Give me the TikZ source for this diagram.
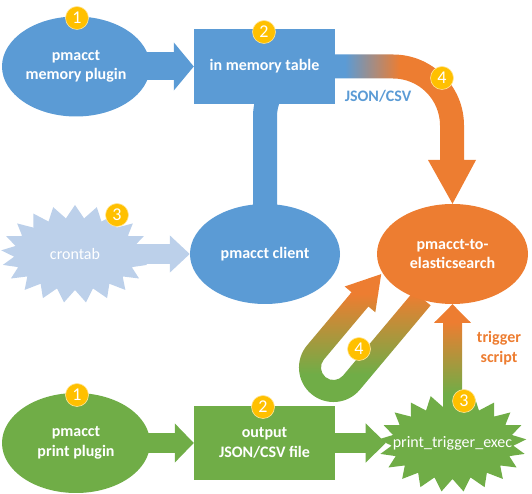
\documentclass[tikz,border=0pt]{standalone}
\usepackage{fontspec}
\setmainfont{Carlito}
\usetikzlibrary{shapes.geometric,shapes.symbols,arrows.meta,backgrounds}
\definecolor{pblue}{HTML}{5B9BD5}
\definecolor{porange}{HTML}{ED7D31}
\definecolor{pgreen}{HTML}{70AD47}
\definecolor{plight}{HTML}{BCD0EA}
\definecolor{pyellow}{HTML}{FFC000}

\begin{document}
\begin{tikzpicture}[x=1pt,y=1pt,
    lbl/.style={font=\fontsize{16}{19.5}\selectfont\bfseries,align=center,inner sep=0pt},
    plain/.style={font=\fontsize{16}{19.5}\selectfont,text=white,inner sep=0pt},
    block/.style={lbl,fill=#1,text=white,minimum width=141pt,minimum height=75pt},
    oval/.style={lbl,fill=#1,text=white,ellipse,minimum width=148pt,minimum height=100pt},
    burst/.style={fill=#1,starburst,starburst points=21,inner sep=0pt,
        starburst point height=13pt,random starburst=0,minimum width=148pt,minimum height=98pt},
    badge/.style={circle,fill=pyellow,draw=pyellow!40!white,line width=0.6pt,text=white,
        minimum size=23pt,inner sep=0pt,font=\fontsize{18}{18}\selectfont},
    fat/.style={line width=#1}]
    \useasboundingbox (0,0) rectangle (532,494);

    \node[oval=pblue] (memplug) at (76,427.5) {pmacct\\memory plugin};
    \node[block=pblue] (memtab) at (264.5,427.5) {in memory table};
    \node[burst=plight,label={[plain]center:crontab}] (crontab) at (75,240) {};
    \node[oval=pblue,minimum width=150pt] (client) at (265,240) {pmacct client};
    \node[oval=porange,minimum width=151pt] (es) at (452.5,240) {pmacct-to-\\elasticsearch};
    \node[oval=pgreen] (printplug) at (76,51) {pmacct\\print plugin};
    \node[block=pgreen,minimum height=74pt] (outfile) at (264.5,51) {output\\JSON/CSV file};
    \node[burst=pgreen,label={[plain]center:print\_trigger\_exec}] (trigexec) at (452.5,51) {};

    \node[lbl,text=pblue] (jsonlbl) at (378,398) {JSON/CSV};
    \node[lbl,text=porange] (triglbl) at (499,146) {trigger\\script};

    \begin{scope}[on background layer]
        \draw[pblue,fat=28pt,-{Triangle[width=47pt,length=20pt]}] (memplug.center) -- (memtab);
        \draw[plight,fat=20pt,-{Triangle[width=36pt,length=20pt]}] (crontab.center) -- (client);
        \draw[pgreen,fat=20pt,-{Triangle[width=38pt,length=19pt]}] (printplug.center) -- (outfile);
        \draw[pgreen,fat=20pt,-{Triangle[width=38pt,length=20pt]}] (outfile.center) -- (trigexec);

        \begin{scope}
            \clip (253,250) -- (253,377.5) arc[start angle=180,end angle=90,radius=62]
                -- (393,439.5) arc[start angle=90,end angle=0,radius=71]
                -- (464,334) -- (476,334) -- (es.north) -- (428,334) -- (440,334)
                -- (440,368.5) arc[start angle=0,end angle=90,radius=47]
                -- (315,415.5) arc[start angle=90,end angle=180,radius=38]
                -- (277,250) -- cycle;
            \fill[pblue] (240,240) rectangle (345,450);
            \shade[left color=pblue,right color=porange] (345,240) rectangle (400,450);
            \fill[porange] (400,240) rectangle (490,450);
        \end{scope}

        \begin{scope}
            \clip (351.6,201.7) -- (344.7,207.5) -- (381.2,219.9) -- (375.3,181.7)
                -- (368.4,187.5) -- (323.9,134.5) arc[start angle=140,end angle=320,radius=12.5]
                -- (413.8,202.8) -- (430.6,188.6)
                -- (359.9,104.3) arc[start angle=320,end angle=140,radius=34.5] -- cycle;
            \fill[pgreen] (290,80) rectangle (440,120);
            \shade[bottom color=pgreen,top color=porange] (290,120) rectangle (440,200);
            \fill[porange] (290,200) rectangle (440,230);
        \end{scope}

        \begin{scope}
            \clip (443,70) -- (443,171) -- (434,171) -- (es.south) -- (471,171)
                -- (462,171) -- (462,70) -- cycle;
            \fill[pgreen] (430,60) rectangle (480,100);
            \shade[bottom color=pgreen,top color=porange] (430,100) rectangle (480,172);
            \fill[porange] (430,172) rectangle (480,200);
        \end{scope}
    \end{scope}

    \node[badge] (badgeA) at (77,476) {1};
    \node[badge] (badgeB) at (264,462) {2};
    \node[badge] (badgeC) at (442,416) {4};
    \node[badge] (badgeD) at (117,279) {3};
    \node[badge] (badgeE) at (77,99) {1};
    \node[badge] (badgeF) at (263,87) {2};
    \node[badge] (badgeG) at (359,145) {4};
    \node[badge] (badgeH) at (464,93) {3};
\end{tikzpicture}
\end{document}
